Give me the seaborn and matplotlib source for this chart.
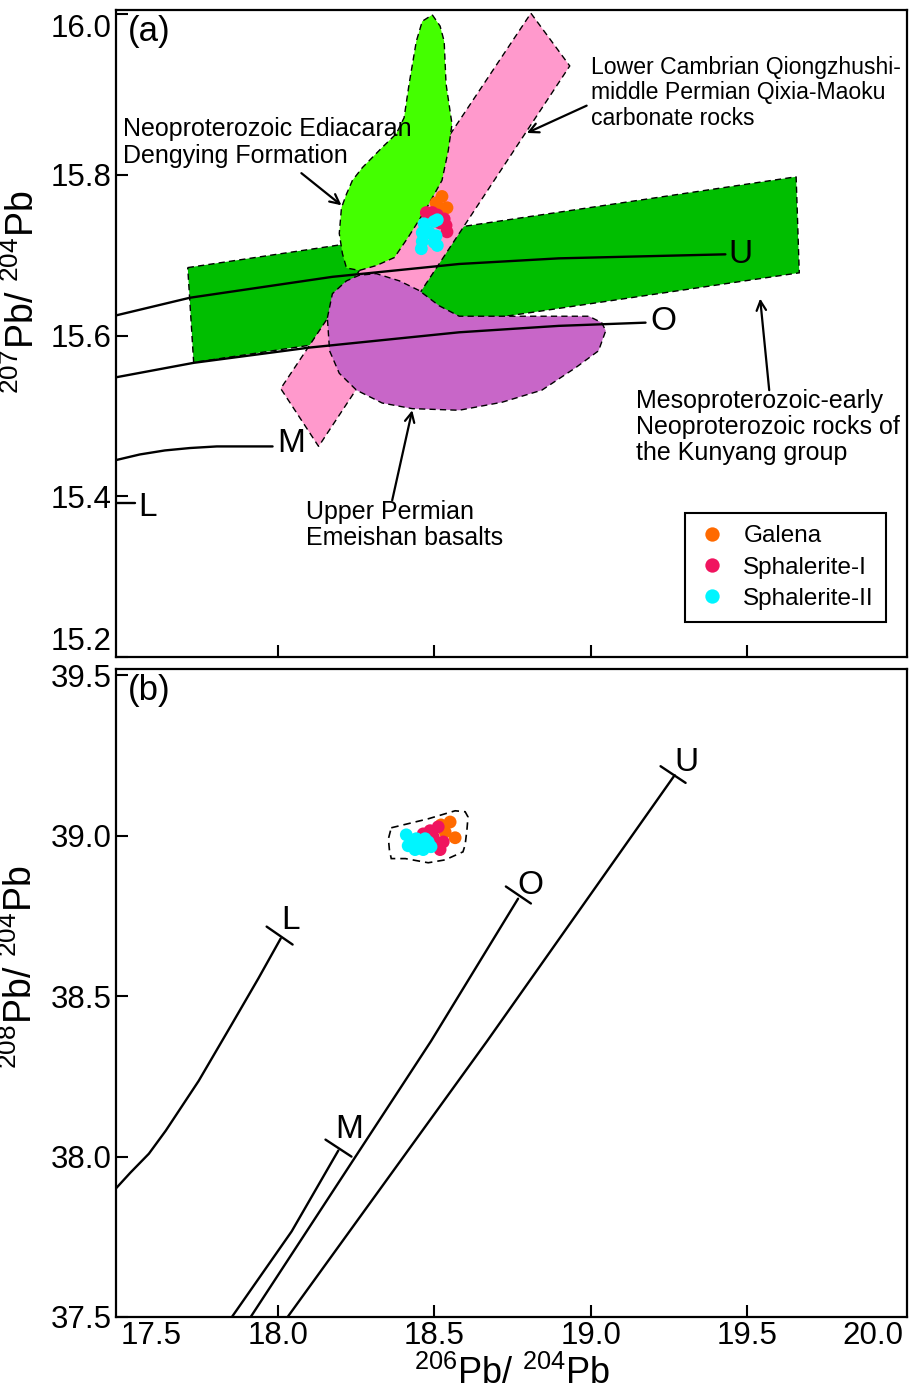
import numpy as np
import pandas as pd
import matplotlib
matplotlib.use('Agg')
import matplotlib.pyplot as plt
import seaborn as sns

# ---------------- data (panel a: 207Pb/204Pb vs 206Pb/204Pb) ----------------
galena_a_x = [18.525, 18.506, 18.541, 18.519]
galena_a_y = [15.773, 15.765, 15.759, 15.758]
sph1_a_x = [18.475, 18.494, 18.510, 18.532, 18.538, 18.541, 18.519]
sph1_a_y = [15.753, 15.753, 15.750, 15.745, 15.737, 15.729, 15.740]
sph2_a_x = [18.468, 18.462, 18.462, 18.459, 18.500, 18.510, 18.484, 18.506, 18.500, 18.510]
sph2_a_y = [15.739, 15.728, 15.717, 15.708, 15.742, 15.744, 15.728, 15.724, 15.716, 15.712]

# growth curves (Zartman & Doe)
u_a_x = [17.484, 17.720, 18.175, 18.580, 18.898, 19.111, 19.430]
u_a_y = [15.625, 15.647, 15.673, 15.689, 15.696, 15.698, 15.701]
o_a_x = [17.484, 17.732, 18.102, 18.580, 18.898, 19.175]
o_a_y = [15.548, 15.566, 15.585, 15.604, 15.612, 15.616]
m_a_x = [17.484, 17.560, 17.640, 17.720, 17.806, 17.984]
m_a_y = [15.445, 15.452, 15.457, 15.460, 15.462, 15.462]
l_a_x = [17.484, 17.545]
l_a_y = [15.391, 15.391]

# source fields
kunyang_x = [17.713, 19.656, 19.666, 17.732]
kunyang_y = [15.6845, 15.7975, 15.678, 15.5665]
carbonate_x = [18.809, 18.933, 18.131, 18.010]
carbonate_y = [16.001, 15.9354, 15.462, 15.534]
dengying_x = [18.494, 18.519, 18.532, 18.538, 18.557, 18.545, 18.525, 18.475, 18.420, 18.373,
              18.315, 18.261, 18.220, 18.207, 18.197, 18.204, 18.220, 18.239, 18.271, 18.334,
              18.379, 18.404, 18.420, 18.443, 18.462]
dengying_y = [15.999, 15.985, 15.966, 15.913, 15.863, 15.830, 15.793, 15.758, 15.724, 15.697,
              15.687, 15.681, 15.684, 15.702, 15.727, 15.759, 15.776, 15.793, 15.809, 15.834,
              15.851, 15.871, 15.913, 15.966, 15.991]
emeishan_x = [18.159, 18.175, 18.220, 18.261, 18.315, 18.389, 18.452, 18.516, 18.580, 18.994,
              19.035, 19.048, 19.025, 18.952, 18.844, 18.717, 18.580, 18.430, 18.334, 18.252,
              18.197, 18.166]
emeishan_y = [15.622, 15.652, 15.668, 15.675, 15.677, 15.668, 15.656, 15.637, 15.624, 15.624,
              15.616, 15.606, 15.581, 15.560, 15.532, 15.517, 15.507, 15.509, 15.516, 15.532,
              15.553, 15.581]

# ---------------- data (panel b: 208Pb/204Pb vs 206Pb/204Pb) ----------------
galena_b_x = [18.551, 18.567, 18.535, 18.522]
galena_b_y = [39.043, 38.994, 39.012, 39.034]
sph1_b_x = [18.513, 18.487, 18.465, 18.529, 18.519, 18.503, 18.497]
sph1_b_y = [39.028, 39.016, 39.006, 38.981, 38.957, 38.972, 38.997]
sph2_b_x = [18.411, 18.417, 18.439, 18.465, 18.443, 18.471, 18.490, 18.455, 18.481]
sph2_b_y = [39.003, 38.969, 38.957, 38.957, 38.991, 38.991, 38.966, 38.975, 38.981]

field_b_x = [18.363, 18.481, 18.567, 18.599, 18.608, 18.605, 18.599, 18.592, 18.535, 18.481,
             18.408, 18.363, 18.357, 18.354]
field_b_y = [39.025, 39.053, 39.078, 39.075, 39.059, 39.022, 38.972, 38.950, 38.925, 38.916,
             38.929, 38.929, 38.957, 38.991]

l_b_x = [17.484, 17.530, 17.589, 17.643, 17.748, 17.854, 17.939, 18.010]
l_b_y = [37.901, 37.950, 38.009, 38.081, 38.236, 38.413, 38.556, 38.680]
m_b_x = [17.854, 18.045, 18.194]
m_b_y = [37.500, 37.767, 38.019]
o_b_x = [17.914, 18.411, 18.490, 18.768]
o_b_y = [37.500, 38.242, 38.360, 38.804]
u_b_x = [18.032, 18.669, 19.268]
u_b_y = [37.500, 38.360, 39.189]
# end-tick segments of the curves in panel b
l_tick_x, l_tick_y = [17.965, 18.048], [38.717, 38.661]
m_tick_x, m_tick_y = [18.153, 18.236], [38.053, 38.000]
o_tick_x, o_tick_y = [18.729, 18.809], [38.842, 38.789]
u_tick_x, u_tick_y = [19.223, 19.303], [39.217, 39.165]

types = ['Galena', 'Sphalerite-I', 'Sphalerite-II']
palette = {'Galena': '#FF6A00', 'Sphalerite-I': '#F0145F', 'Sphalerite-II': '#00F5FF'}

xticks = [17.5, 18.0, 18.5, 19.0, 19.5, 20.0]
yticks_a = [15.2, 15.4, 15.6, 15.8, 16.0]
yticks_b = [37.5, 38.0, 38.5, 39.0, 39.5]

# ---------------- styling ----------------
sns.set_style('ticks')
plt.rcParams['font.family'] = ['Liberation Sans', 'DejaVu Sans']
plt.rcParams['mathtext.fontset'] = 'custom'
plt.rcParams['mathtext.rm'] = 'Liberation Sans'
plt.rcParams['mathtext.it'] = 'Liberation Sans:italic'
plt.rcParams['mathtext.bf'] = 'Liberation Sans:bold'
for k in ['text.color', 'axes.labelcolor', 'xtick.color', 'ytick.color', 'axes.edgecolor']:
    plt.rcParams[k] = 'black'

W, H = 919, 1391
fig = plt.figure(figsize=(W / 100, H / 100), dpi=100)
ax1 = fig.add_axes([116 / W, 1 - 657 / H, 791 / W, 647 / H])
ax2 = fig.add_axes([116 / W, 1 - 1317 / H, 791 / W, 648 / H])

dash = (0, (4.5, 3))

def make_df(xs, ys):
    rows = []
    for t, x, y in zip(types, xs, ys):
        for a, b in zip(x, y):
            rows.append((a, b, t))
    return pd.DataFrame(rows, columns=['x', 'y', 'type'])

# ---- panel a ----
ax1.fill(kunyang_x, kunyang_y, facecolor='#00BE00', edgecolor='black', lw=1.0, ls=dash, zorder=1)
ax1.fill(carbonate_x, carbonate_y, facecolor='#FF99CC', edgecolor='black', lw=1.0, ls=dash, zorder=2)
ax1.fill(dengying_x, dengying_y, facecolor='#44FF00', edgecolor='black', lw=1.0, ls=dash, zorder=3)
ax1.fill(emeishan_x, emeishan_y, facecolor='#C866C8', edgecolor='black', lw=1.0, ls=dash, zorder=4)

for cx, cy in [(u_a_x, u_a_y), (o_a_x, o_a_y), (m_a_x, m_a_y), (l_a_x, l_a_y)]:
    sns.lineplot(x=cx, y=cy, sort=False, estimator=None, color='black', lw=1.7, ax=ax1, zorder=5)

df_a = make_df([galena_a_x, sph1_a_x, sph2_a_x], [galena_a_y, sph1_a_y, sph2_a_y])
sns.scatterplot(data=df_a, x='x', y='y', hue='type', hue_order=types, palette=palette,
                s=85, edgecolor='none', linewidth=0, ax=ax1, zorder=6)

cl = dict(fontsize=24, ha='left', va='center')
ax1.text(19.44, 15.701, 'U', **cl)
ax1.text(19.19, 15.617, 'O', **cl)
ax1.text(18.0, 15.466, 'M', **cl)
ax1.text(17.554, 15.386, 'L', **cl)

arrow = dict(arrowstyle='->', lw=1.6, color='black', mutation_scale=17, shrinkA=0, shrinkB=0)
ax1.annotate('', xy=(18.204, 15.762), xytext=(18.076, 15.802), arrowprops=arrow, zorder=7)
ax1.annotate('', xy=(18.796, 15.852), xytext=(18.987, 15.886), arrowprops=arrow, zorder=7)
ax1.annotate('', xy=(19.541, 15.646), xytext=(19.570, 15.532), arrowprops=arrow, zorder=7)
ax1.annotate('', xy=(18.430, 15.507), xytext=(18.366, 15.395), arrowprops=arrow, zorder=7)

tk_small = dict(fontsize=16.6, ha='left', va='center', linespacing=1.15, zorder=8)
tk_big = dict(fontsize=18, ha='left', va='center', linespacing=1.12, zorder=8)
ax1.text(17.506, 15.840, 'Neoproterozoic Ediacaran\nDengying Formation', **tk_big)
ax1.text(19.0, 15.902, 'Lower Cambrian Qiongzhushi-\nmiddle Permian Qixia-Maoku\ncarbonate rocks', **tk_small)
ax1.text(19.146, 15.486, 'Mesoproterozoic-early\nNeoproterozoic rocks of\nthe Kunyang group', **tk_big)
ax1.text(18.092, 15.364, 'Upper Permian\nEmeishan basalts', **tk_big)

ax1.text(0.015, 0.992, '(a)', transform=ax1.transAxes, fontsize=25, ha='left', va='top')

handles, labels = ax1.get_legend_handles_labels()
leg = ax1.legend(handles, labels, loc='lower right', bbox_to_anchor=(0.9735, 0.054),
                 borderaxespad=0, frameon=True, fancybox=False, edgecolor='black',
                 fontsize=17.5, markerscale=1.12, handletextpad=0.7, borderpad=0.5,
                 labelspacing=0.38, handlelength=1.2)
leg.get_frame().set_linewidth(1.5)
leg.get_frame().set_alpha(1)

ax1.set_xlim(17.484, 20.01)
ax1.set_ylim(15.2, 16.005)

# ---- panel b ----
ax2.fill(field_b_x, field_b_y, facecolor='none', edgecolor='black', lw=1.2, ls=dash, zorder=2)
for cx, cy in [(l_b_x, l_b_y), (m_b_x, m_b_y), (o_b_x, o_b_y), (u_b_x, u_b_y),
               (l_tick_x, l_tick_y), (m_tick_x, m_tick_y), (o_tick_x, o_tick_y), (u_tick_x, u_tick_y)]:
    sns.lineplot(x=cx, y=cy, sort=False, estimator=None, color='black', lw=1.7, ax=ax2, zorder=5)

df_b = make_df([galena_b_x, sph1_b_x, sph2_b_x], [galena_b_y, sph1_b_y, sph2_b_y])
sns.scatterplot(data=df_b, x='x', y='y', hue='type', hue_order=types, palette=palette,
                s=85, edgecolor='none', linewidth=0, ax=ax2, zorder=6, legend=False)

ax2.text(18.013, 38.735, 'L', **cl)
ax2.text(18.185, 38.085, 'M', **cl)
ax2.text(18.765, 38.845, 'O', **cl)
ax2.text(19.268, 39.230, 'U', **cl)
ax2.text(0.015, 0.992, '(b)', transform=ax2.transAxes, fontsize=25, ha='left', va='top')

ax2.set_xlim(17.484, 20.01)
ax2.set_ylim(37.5, 39.52)

# ---- axes formatting ----
for ax, yt in [(ax1, yticks_a), (ax2, yticks_b)]:
    ax.set_xticks(xticks)
    ax.set_yticks(yt)
    ax.set_xticklabels([f'{v:.1f}' for v in xticks])
    ax.set_yticklabels([f'{v:.1f}' for v in yt])
    ax.tick_params(direction='in', length=8.5, width=1.5, labelsize=22.5, pad=3,
                   top=False, right=False, colors='black')
    for sp in ax.spines.values():
        sp.set_linewidth(1.6)
        sp.set_color('black')
    xt = ax.xaxis.get_major_ticks()
    xt[0].tick1line.set_visible(False)
    xt[-1].tick1line.set_visible(False)
    ax.set_xlabel('')

ax1.tick_params(labelbottom=False)
ylab1 = ax1.get_yticklabels()
ylab1[-1].set_va('top')
ylab1[0].set_va('bottom')
xlab2 = ax2.get_xticklabels()
xlab2[0].set_ha('left')
xlab2[-1].set_ha('right')

ax1.set_ylabel(r'$^{207}$Pb/ $^{204}$Pb', fontsize=27)
ax1.yaxis.set_label_coords(-0.094, 0.564)
ax2.set_ylabel(r'$^{208}$Pb/ $^{204}$Pb', fontsize=27)
ax2.yaxis.set_label_coords(-0.096, 0.539)
ax2.set_xlabel(r'$^{206}$Pb/ $^{204}$Pb', fontsize=26, labelpad=3)

fig.savefig('out.png', dpi=100)
